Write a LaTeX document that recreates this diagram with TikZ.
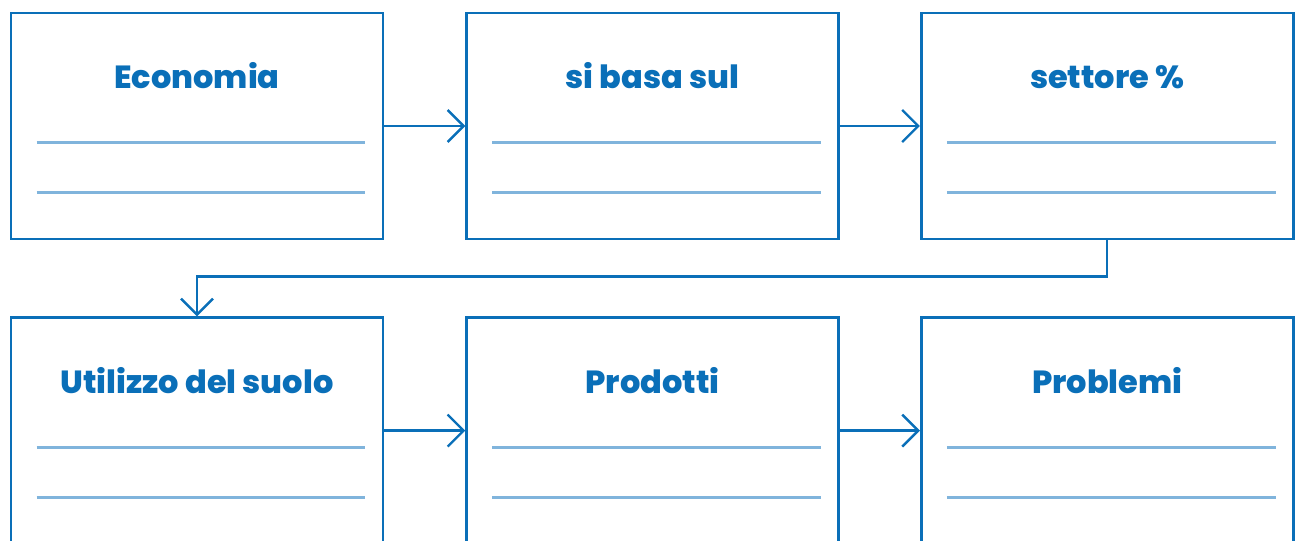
\documentclass[tikz,border=0pt]{standalone}
\usepackage{fontspec}
\setsansfont{Poppins}[BoldFont={Poppins ExtraBold}]
\usetikzlibrary{arrows.meta,positioning}
\definecolor{boxblue}{HTML}{0A6FB8}
\definecolor{ruleblue}{HTML}{80B4DC}
\begin{document}
\begin{tikzpicture}[x=1pt,y=1pt]
      \tikzstyle{rectblock}=[rectangle, draw=boxblue, line width=2.6pt, minimum width=372pt, minimum height=226pt, inner sep=0pt]
      \tikzstyle{title}=[anchor=base, text=boxblue, font=\sffamily\bfseries\fontsize{32}{38}\selectfont]
      \tikzstyle{rule}=[draw=ruleblue, line width=2.6pt]
      \tikzstyle{link}=[-{Straight Barb[length=16pt,width=32pt]}, draw=boxblue, line width=2.4pt]
      \useasboundingbox (0,0) rectangle (1302,-541);
      \clip (0,0) rectangle (1302,-541);
      % first row
      \node[rectblock] (E) at (197,-126) {};
      \node[rectblock, right = 81pt of E] (B) {};
      \node[rectblock, right = 80pt of B] (S) {};
      % second row
      \node[rectblock, below = 76pt of E] (U) {};
      \node[rectblock, right = 81pt of U] (P) {};
      \node[rectblock, right = 80pt of P] (R) {};
      % titles and blank lines
      \foreach \b/\t in {E/Economia, B/si basa sul, S/settore \%, U/Utilizzo del suolo, P/Prodotti, R/Problemi} {
        \node[title] (\b t) at ([yshift=-77pt]\b.north) {\t};
        \draw[rule] ([xshift=27pt,yshift=-131pt]\b.north west) -- ([xshift=-19pt,yshift=-131pt]\b.north east);
        \draw[rule] ([xshift=27pt,yshift=-181pt]\b.north west) -- ([xshift=-19pt,yshift=-181pt]\b.north east);
      }
      % connectors
      \draw[link] (E) -- (B);
      \draw[link] (B) -- (S);
      \draw[link] (S.south) -- ++(0,-36) -| (U.north);
      \draw[link] (U) -- (P);
      \draw[link] (P) -- (R);
\end{tikzpicture}
\end{document}
